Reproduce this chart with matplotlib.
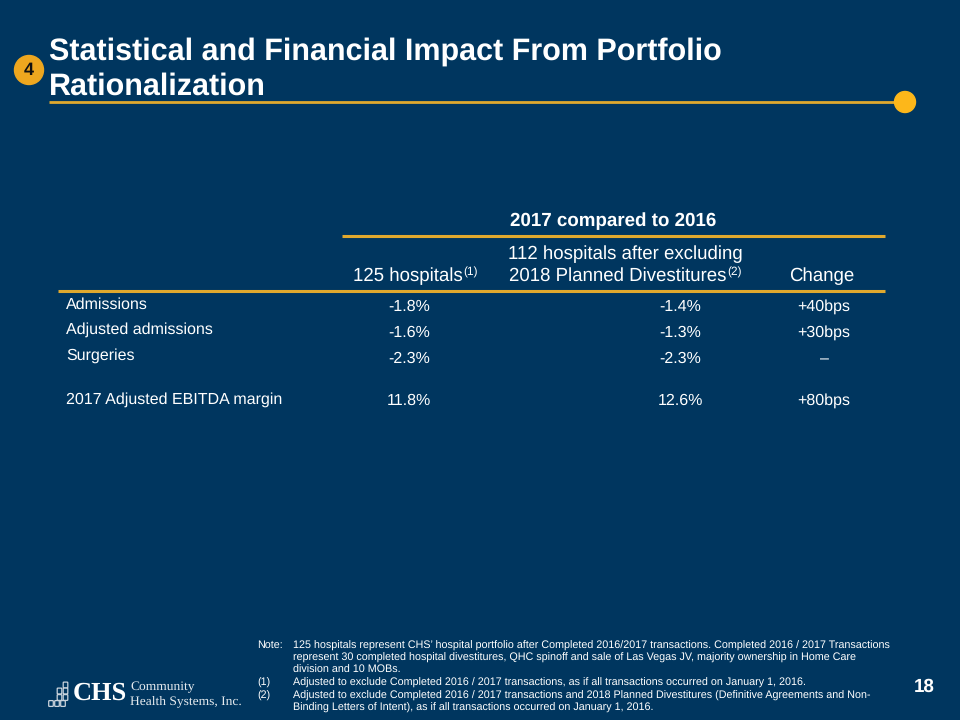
import matplotlib.pyplot as plt
from matplotlib.patches import Circle, FancyBboxPatch

plt.rcParams["font.family"] = ["Liberation Sans", "DejaVu Sans"]
plt.rcParams["text.hinting"] = "no_hinting"
plt.rcParams["text.hinting_factor"] = 8

BG = "#00365f"
GOLD = "#e0a92e"
DOT = "#fdb71a"
WHITE = "#ffffff"

TITLE = ["Statistical and Financial Impact From Portfolio", "Rationalization"]
METRICS = ["Admissions", "Adjusted admissions", "Surgeries", "2017 Adjusted EBITDA margin"]
COL_125 = ["-1.8%", "-1.6%", "-2.3%", "11.8%"]
COL_112 = ["-1.4%", "-1.3%", "-2.3%", "12.6%"]
COL_CHANGE = ["+40bps", "+30bps", "–", "+80bps"]
NOTE_KEYS = ["Note:", "", "", "(1)", "(2)", ""]
NOTE_LINES = [
    "125 hospitals represent CHS’ hospital portfolio after Completed 2016/2017 transactions. Completed 2016 / 2017 Transactions",
    "represent 30 completed hospital divestitures, QHC spinoff and sale of Las Vegas JV, majority ownership in Home Care",
    "division and 10 MOBs.",
    "Adjusted to exclude Completed 2016 / 2017 transactions, as if all transactions occurred on January 1, 2016.",
    "Adjusted to exclude Completed 2016 / 2017 transactions and 2018 Planned Divestitures (Definitive Agreements and Non-",
    "Binding Letters of Intent), as if all transactions occurred on January 1, 2016.",
]

LABEL_Y = [305, 330, 356, 400]
VALUE_Y = [307, 333, 359, 401]
NOTE_Y = [645.5, 658, 670.5, 683, 695.5, 707.5]

fig = plt.figure(figsize=(9.6, 7.2), dpi=100, facecolor=BG)
ax = fig.add_axes([0, 0, 1, 1])
ax.set_xlim(0, 960)
ax.set_ylim(720, 0)
ax.axis("off")

# header
ax.text(49, 52, TITLE[0], fontsize=22, fontweight="bold", color=WHITE, va="center")
ax.text(49, 87, TITLE[1], fontsize=22, fontweight="bold", color=WHITE, va="center")
ax.plot([49, 905], [102, 102], color=GOLD, lw=2, solid_capstyle="butt")
ax.add_patch(Circle((905, 102), 10.5, color=DOT, zorder=3))
ax.add_patch(Circle((29, 70), 14.5, color="#eea71f", zorder=3))
ax.text(29, 70.5, "4", fontsize=13, fontweight="bold", color="#111111", ha="center", va="center", zorder=4)

# table header
ax.text(613.5, 221, "2017 compared to 2016", fontsize=13.5, fontweight="bold", color=WHITE, ha="center", va="center")
ax.plot([342, 885], [236, 236], color=GOLD, lw=2.2, solid_capstyle="butt")
ax.plot([58, 885], [290.5, 290.5], color=GOLD, lw=2.2, solid_capstyle="butt")

ax.text(353, 276, "125 hospitals", fontsize=13.4, color=WHITE, va="center")
ax.text(463.5, 272, "(1)", fontsize=8.6, color=WHITE, va="center")
ax.text(625, 254, "112 hospitals after excluding", fontsize=13.4, color=WHITE, ha="center", va="center")
ax.text(509, 276, "2018 Planned Divestitures", fontsize=13.4, color=WHITE, va="center")
ax.text(727.5, 272, "(2)", fontsize=8.6, color=WHITE, va="center")
ax.text(822, 276, "Change", fontsize=13.4, color=WHITE, ha="center", va="center")

# table rows
for name, a, b, c, ly, vy in zip(METRICS, COL_125, COL_112, COL_CHANGE, LABEL_Y, VALUE_Y):
    ax.text(66, ly, name, fontsize=11.5, color=WHITE, va="center")
    ax.text(409, vy, a, fontsize=11.5, color=WHITE, ha="center", va="center")
    ax.text(680, vy, b, fontsize=11.5, color=WHITE, ha="center", va="center")
    ax.text(824, vy, c, fontsize=11.5, color=WHITE, ha="center", va="center")

# footnotes
for key, line, y in zip(NOTE_KEYS, NOTE_LINES, NOTE_Y):
    ax.text(257, y, key, fontsize=7.75, color=WHITE, va="center")
    ax.text(293, y, line, fontsize=7.75, color=WHITE, va="center")

# logo
for x, y in [(65.5, 685), (59.5, 691), (65.5, 691), (59.5, 697.5), (65.5, 697.5), (51, 703.5), (57, 703.5), (63, 703.5)]:
    ax.add_patch(FancyBboxPatch((x - 1.6, y - 2.2), 3.2, 4.4, boxstyle="round,pad=0.7",
                                fc=BG, ec="#c9d3dc", lw=0.9))
ax.text(73, 693, "CHS", fontsize=19, fontweight="bold", family="Liberation Serif", color=WHITE, va="center")
ax.text(130, 687.5, "Community", fontsize=9.7, family="Liberation Serif", color="#e6ebef", va="center")
ax.text(130, 701, "Health Systems, Inc.", fontsize=9.7, family="Liberation Serif", color="#e6ebef", va="center")

# page number
ax.text(924, 687, "18", fontsize=13.5, fontweight="bold", color=WHITE, ha="center", va="center")

fig.savefig("out.png", dpi=100, facecolor=BG)
